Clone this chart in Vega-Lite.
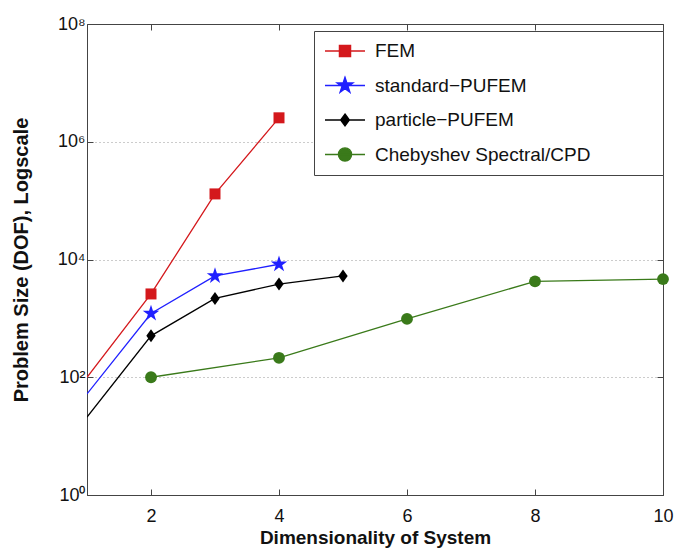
{
  "$schema": "https://vega.github.io/schema/vega-lite/v6.json",
  "width": 576,
  "height": 471,
  "autosize": "none",
  "padding": {"left": 87, "top": 24, "right": 13, "bottom": 58},
  "background": "white",
  "config": {
    "font": "Liberation Sans",
    "view": {"stroke": "#444", "strokeWidth": 1}
  },
  "data": {
    "values": [
      {"series": "FEM", "dim": 1, "dof": 100},
      {"series": "FEM", "dim": 2, "dof": 2600},
      {"series": "FEM", "dim": 3, "dof": 130000},
      {"series": "FEM", "dim": 4, "dof": 2550000},
      {"series": "standard−PUFEM", "dim": 1, "dof": 52},
      {"series": "standard−PUFEM", "dim": 2, "dof": 1210},
      {"series": "standard−PUFEM", "dim": 3, "dof": 5250},
      {"series": "standard−PUFEM", "dim": 4, "dof": 8300},
      {"series": "particle−PUFEM", "dim": 1, "dof": 21},
      {"series": "particle−PUFEM", "dim": 2, "dof": 505},
      {"series": "particle−PUFEM", "dim": 3, "dof": 2180},
      {"series": "particle−PUFEM", "dim": 4, "dof": 3820},
      {"series": "particle−PUFEM", "dim": 5, "dof": 5250},
      {"series": "Chebyshev Spectral/CPD", "dim": 2, "dof": 100},
      {"series": "Chebyshev Spectral/CPD", "dim": 4, "dof": 214},
      {"series": "Chebyshev Spectral/CPD", "dim": 6, "dof": 980},
      {"series": "Chebyshev Spectral/CPD", "dim": 8, "dof": 4260},
      {"series": "Chebyshev Spectral/CPD", "dim": 10, "dof": 4650}
    ]
  },
  "encoding": {
    "x": {
      "field": "dim",
      "type": "quantitative",
      "scale": {"domain": [1, 10], "nice": false, "zero": false},
      "axis": null
    },
    "y": {
      "field": "dof",
      "type": "quantitative",
      "scale": {"type": "log", "domain": [1, 100000000], "nice": false},
      "axis": null
    },
    "color": {
      "field": "series",
      "type": "nominal",
      "scale": {
        "domain": ["FEM", "standard−PUFEM", "particle−PUFEM", "Chebyshev Spectral/CPD"],
        "range": ["#d4181c", "#2020ff", "#000000", "#3a7a1a"]
      },
      "legend": {
        "orient": "none",
        "legendX": 227,
        "legendY": 7,
        "title": null,
        "padding": 10,
        "rowPadding": 14.5,
        "clipHeight": 20,
        "fillColor": "white",
        "strokeColor": "#444",
        "labelFontSize": 19,
        "labelColor": "#111",
        "labelOffset": 9,
        "labelLimit": 0,
        "symbolSize": 1600,
        "symbolOpacity": 1,
        "encode": {
          "entries": {
            "update": {
              "width": {"value": 329}
            }
          },
          "symbols": {
            "update": {
              "shape": {"signal": "datum.value == 'FEM' ? 'M-1,0H1M-0.28,-0.28H0.28V0.28H-0.28Z' : datum.value == 'standard−PUFEM' ? 'M-1,0H1M0,-0.42L0.094,-0.129L0.399,-0.13L0.152,0.049L0.247,0.34L0,0.16L-0.247,0.34L-0.152,0.049L-0.399,-0.13L-0.094,-0.129Z' : datum.value == 'particle−PUFEM' ? 'M-1,0H1M0,-0.3L0.22,0L0,0.3L-0.22,0Z' : 'M-1,0H1M-0.33,0A0.33,0.33,0,1,1,0.33,0A0.33,0.33,0,1,1,-0.33,0Z'"},
              "size": {"value": 1600},
              "fill": {"signal": "scale('color', datum.value)"},
              "stroke": {"signal": "scale('color', datum.value)"},
              "strokeWidth": {"value": 1.3},
              "opacity": {"value": 1}
            }
          }
        }
      }
    }
  },
  "layer": [
    {
      "mark": {"type": "line", "strokeWidth": 1.3, "clip": true},
      "encoding": {
        "x": {
          "field": "dim",
          "type": "quantitative",
          "scale": {"domain": [1, 10], "nice": false, "zero": false},
          "axis": {
            "orient": "bottom",
            "values": [2, 4, 6, 8, 10],
            "title": "Dimensionality of System",
            "titleFontSize": 19,
            "titleFontWeight": "bold",
            "titleColor": "#111",
            "titlePadding": 3,
            "labelFontSize": 18,
            "labelColor": "#111",
            "labelPadding": 18,
            "labelFlush": false,
            "tickSize": -6,
            "tickColor": "#444",
            "domainColor": "#444",
            "grid": false
          }
        },
        "y": {
          "field": "dof",
          "type": "quantitative",
          "scale": {"type": "log", "domain": [1, 100000000], "nice": false},
          "axis": {
            "orient": "left",
            "values": [1, 100, 10000, 1000000, 100000000],
            "labelExpr": "'10' + ['⁰','¹','²','³','⁴','⁵','⁶','⁷','⁸'][round(log(datum.value) / LN10)]",
            "title": "Problem Size (DOF), Logscale",
            "titleFontSize": 20,
            "titleFontWeight": "bold",
            "titleColor": "#111",
            "titlePadding": 26,
            "labelFontSize": 18,
            "labelColor": "#111",
            "labelPadding": 8,
            "labelFlush": false,
            "tickSize": -6,
            "tickColor": "#444",
            "domainColor": "#444",
            "grid": true,
            "gridDash": [1, 3],
            "gridColor": "#999",
            "gridOpacity": {"condition": {"test": "datum.value == 1 || datum.value == 100000000", "value": 0}, "value": 1}
          }
        }
      }
    },
    {
      "transform": [{"filter": "datum.series == 'FEM' && datum.dim >= 2"}],
      "mark": {"type": "point", "shape": "square", "size": 121, "filled": true, "opacity": 1},
      "encoding": {
        "x": {
          "field": "dim",
          "type": "quantitative",
          "scale": {"domain": [1, 10], "nice": false, "zero": false},
          "axis": {
            "orient": "top",
            "values": [2, 4, 6, 8, 10],
            "labels": false,
            "title": null,
            "tickSize": -6,
            "tickColor": "#444",
            "domain": false,
            "grid": false
          }
        },
        "y": {
          "field": "dof",
          "type": "quantitative",
          "scale": {"type": "log", "domain": [1, 100000000], "nice": false},
          "axis": {
            "orient": "right",
            "values": [1, 100, 10000, 1000000, 100000000],
            "labels": false,
            "title": null,
            "tickSize": -6,
            "tickColor": "#444",
            "domain": false,
            "grid": false
          }
        }
      }
    },
    {
      "transform": [{"filter": "datum.series == 'standard−PUFEM' && datum.dim >= 2"}],
      "mark": {
        "type": "point",
        "shape": "M0,-1L0.224,-0.309L0.951,-0.309L0.362,0.118L0.588,0.809L0,0.382L-0.588,0.809L-0.362,0.118L-0.951,-0.309L-0.224,-0.309Z",
        "size": 300,
        "filled": true,
        "opacity": 1
      }
    },
    {
      "transform": [{"filter": "datum.series == 'particle−PUFEM' && datum.dim >= 2"}],
      "mark": {"type": "point", "shape": "M0,-1L0.72,0L0,1L-0.72,0Z", "size": 169, "filled": true, "opacity": 1}
    },
    {
      "transform": [{"filter": "datum.series == 'Chebyshev Spectral/CPD'"}],
      "mark": {"type": "point", "shape": "circle", "size": 140, "filled": true, "opacity": 1}
    }
  ],
  "resolve": {"axis": {"x": "independent", "y": "independent"}}
}
